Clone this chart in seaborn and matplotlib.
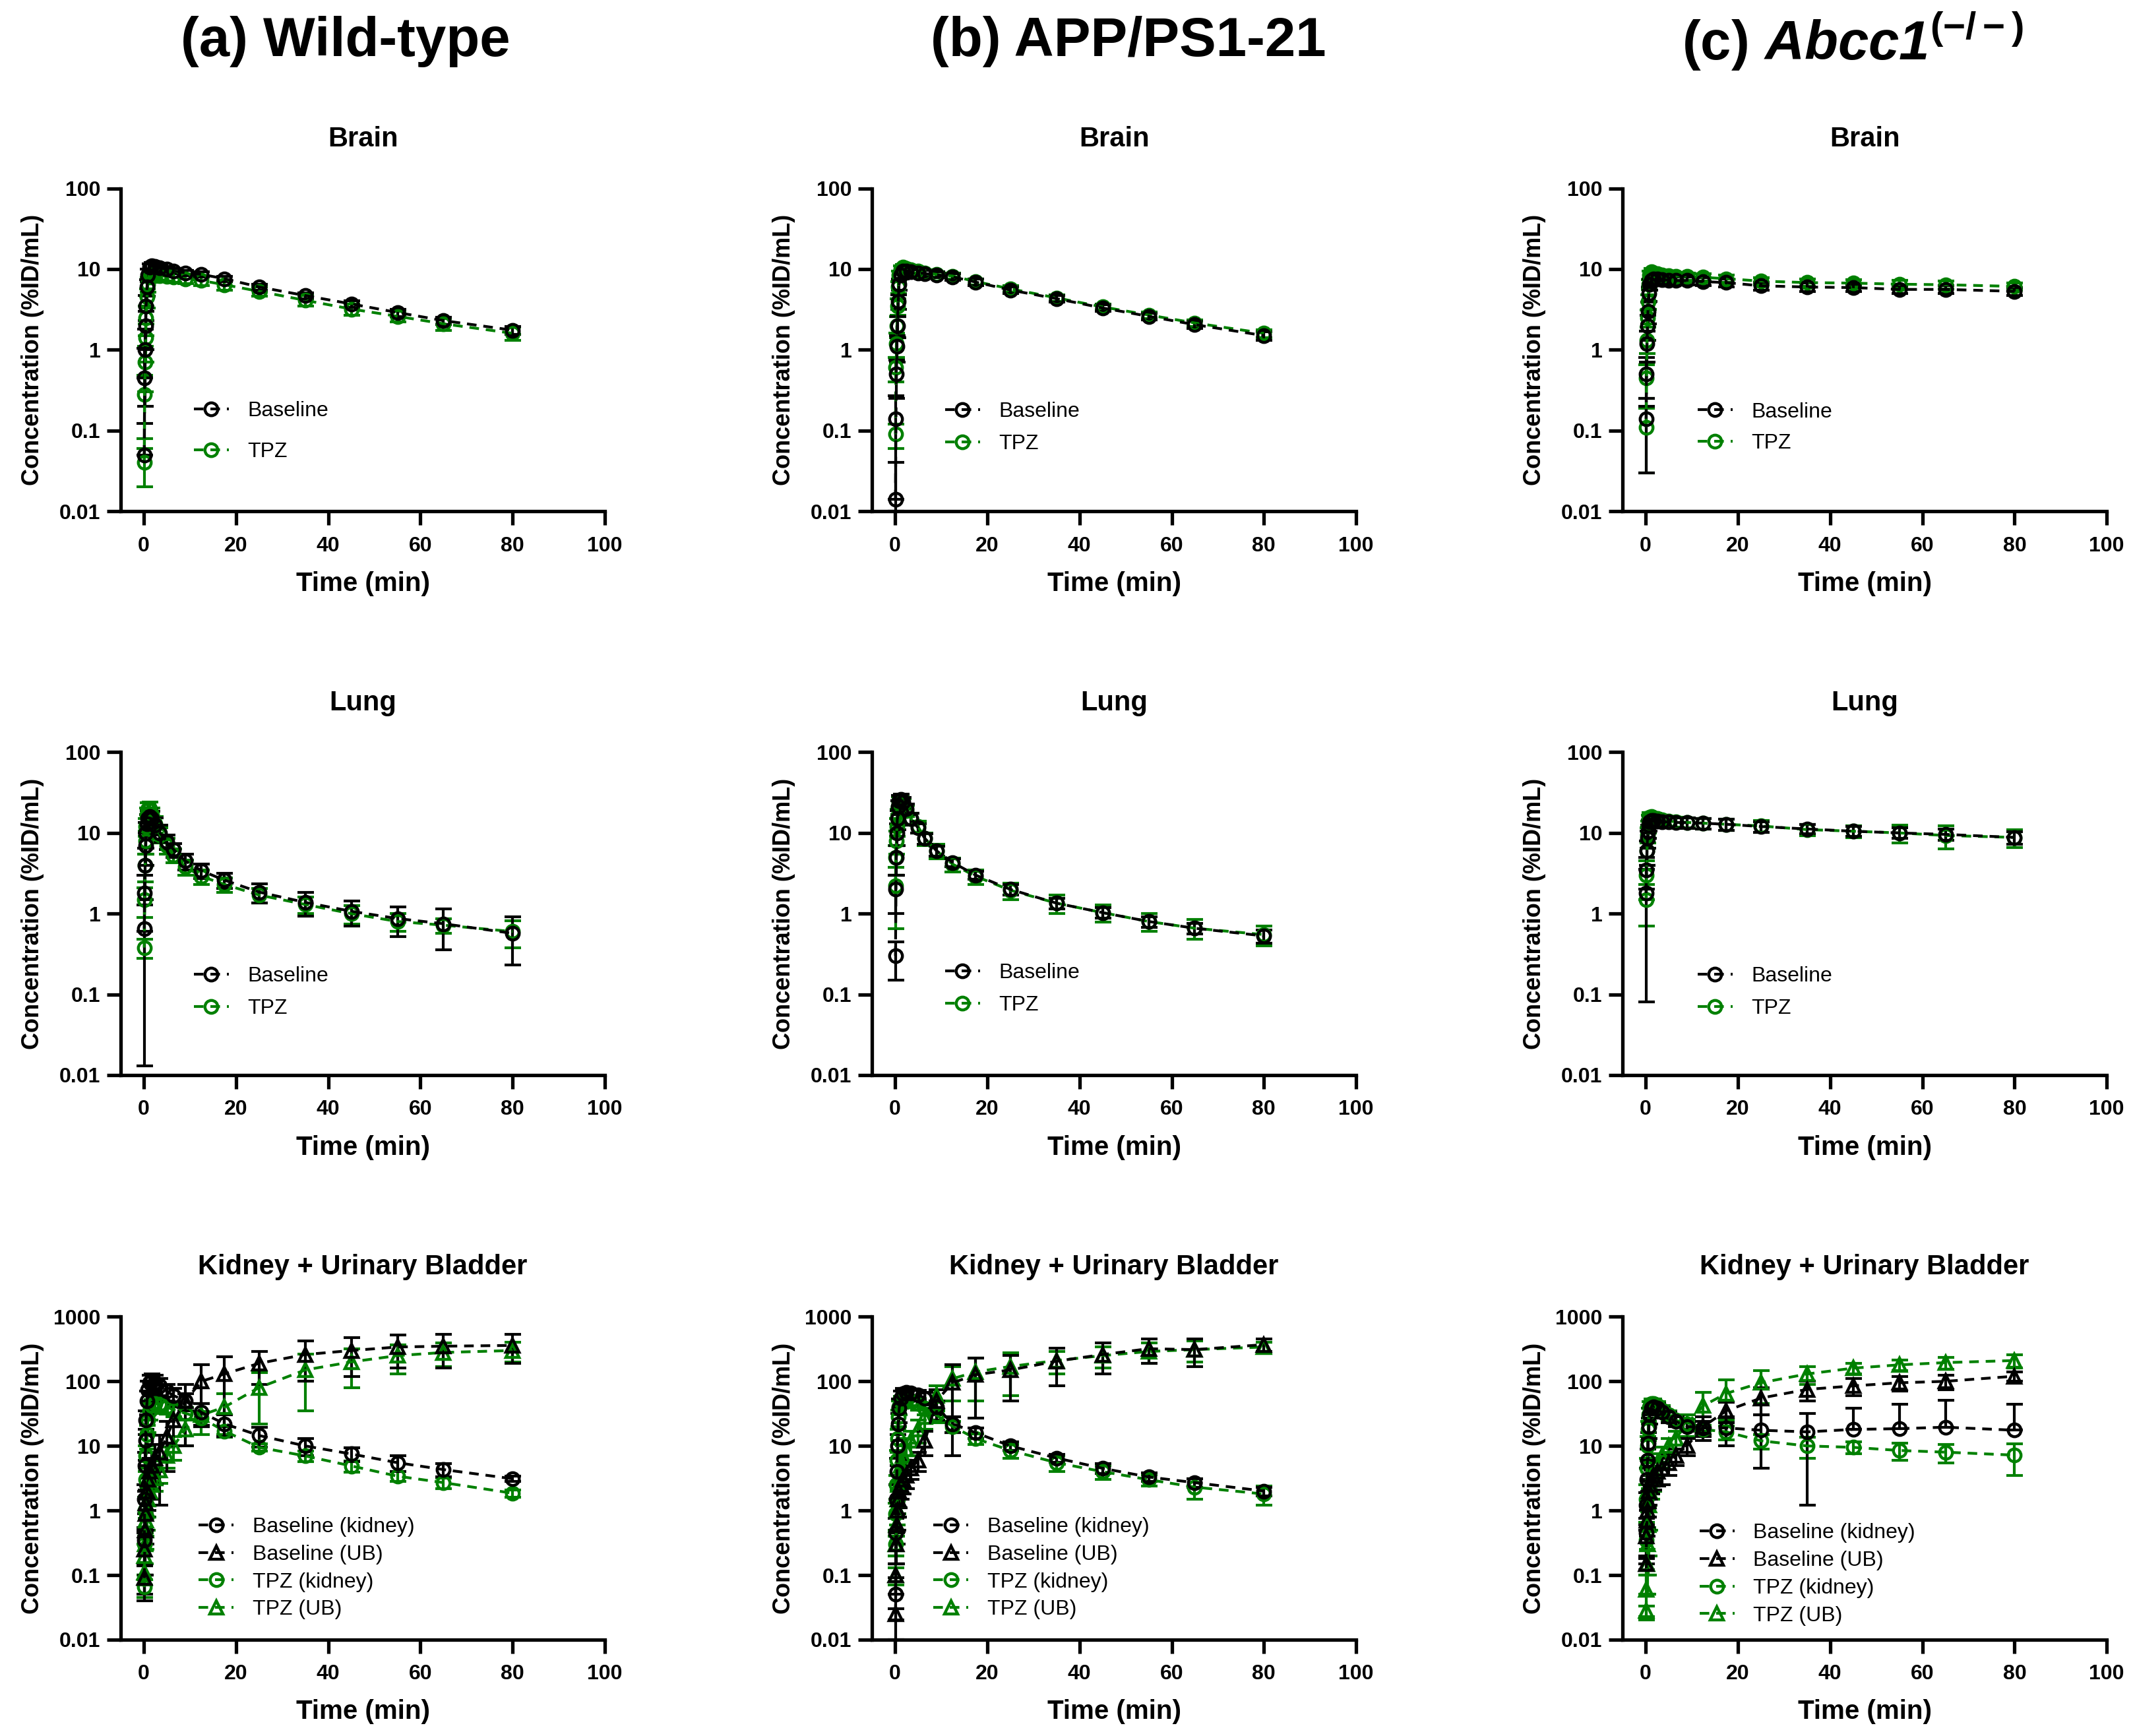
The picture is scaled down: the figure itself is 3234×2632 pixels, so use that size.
import pandas as pd
import seaborn as sns
import matplotlib.pyplot as plt
from matplotlib.lines import Line2D

# frame mid-times (min)
TIME = [0.1, 0.2, 0.3, 0.4, 0.5, 0.7, 0.9, 1.25, 1.75, 2.5, 3.5, 5, 6.5, 9, 12.5, 17.5, 25, 35, 45, 55, 65, 80]

# ---- (a) wild-type ----
wt_brain_base = [0.05, 0.45, 1.0, 2.0, 3.5, 6.0, 8.5, 10.5, 11.0, 10.8, 10.3, 9.9, 9.5, 9.0, 8.6, 7.6, 6.0, 4.7, 3.7, 2.9, 2.3, 1.75]
wt_brain_base_sd = [0.073, 0.6, 0.8, 1.0, 1.2, 1.4, 1.5, 1.2, 1.0, 0.9, 0.8, 0.8, 0.7, 0.7, 0.6, 0.6, 0.5, 0.4, 0.35, 0.3, 0.25, 0.2]
wt_brain_tpz = [0.04, 0.28, 0.7, 1.4, 2.5, 4.5, 6.5, 8.0, 8.5, 8.4, 8.3, 8.1, 7.9, 7.6, 7.2, 6.4, 5.3, 4.1, 3.2, 2.6, 2.1, 1.6]
wt_brain_tpz_sd = [0.02, 0.2, 0.4, 0.7, 1.0, 1.2, 1.3, 1.2, 1.1, 1.0, 1.0, 1.0, 1.0, 1.0, 1.0, 0.9, 0.7, 0.6, 0.5, 0.4, 0.35, 0.3]

wt_lung_base = [0.65, 1.8, 4.0, 7.0, 10.0, 13.0, 15.0, 16.0, 15.0, 12.5, 10.0, 7.8, 6.2, 4.5, 3.4, 2.6, 1.85, 1.38, 1.07, 0.87, 0.75, 0.57]
wt_lung_base_sd = [0.637, 1.2, 2.5, 3.0, 3.5, 4.0, 4.0, 4.0, 3.5, 3.0, 2.4, 1.6, 1.2, 1.0, 0.7, 0.55, 0.5, 0.44, 0.37, 0.35, 0.39, 0.34]
wt_lung_tpz = [0.38, 1.5, 4.0, 8.0, 12.0, 17.0, 19.5, 20.0, 17.0, 13.0, 9.5, 7.0, 5.3, 3.8, 2.9, 2.3, 1.7, 1.3, 1.0, 0.8, 0.72, 0.6]
wt_lung_tpz_sd = [0.1, 0.6, 1.5, 2.5, 3.0, 3.5, 4.0, 4.0, 3.5, 3.0, 2.0, 1.5, 1.0, 0.8, 0.6, 0.45, 0.35, 0.3, 0.25, 0.2, 0.15, 0.22]

wt_kid_base = [0.35, 1.5, 5, 12, 25, 50, 75, 95, 100, 95, 85, 70, 60, 50, 33, 22, 14.5, 10, 7.5, 5.5, 4.3, 3.1]
wt_kid_base_sd = [0.2, 1.0, 3, 6, 10, 20, 25, 30, 30, 28, 25, 20, 18, 15, 12, 8, 5, 3, 1.8, 1.5, 1.0, 0.3]
wt_ub_base = [0.09, 0.25, 0.5, 0.9, 1.3, 2, 3, 4, 5, 6.5, 8, 14, 25, 50, 100, 130, 190, 260, 300, 340, 350, 360]
wt_ub_base_sd = [0.05, 0.2, 0.4, 0.6, 0.8, 1.2, 2, 2.5, 3, 4, 6.8, 10, 15, 40, 80, 110, 100, 160, 180, 180, 190, 170]
wt_kid_tpz = [0.065, 0.3, 1.0, 3, 7, 15, 25, 35, 42, 45, 44, 40, 36, 32, 27, 17, 9.5, 7.0, 4.9, 3.4, 2.7, 1.85]
wt_kid_tpz_sd = [0.02, 0.2, 0.6, 1.5, 3, 6, 9, 10, 10, 10, 10, 9, 8, 7, 7, 3.5, 1.2, 1.3, 1.0, 0.6, 0.5, 0.25]
wt_ub_tpz = [0.11, 0.2, 0.3, 0.5, 0.7, 1.0, 1.5, 2, 2.5, 3.2, 4.2, 7, 10, 18, 30, 40, 80, 150, 200, 250, 280, 300]
wt_ub_tpz_sd = [0.04, 0.1, 0.15, 0.25, 0.3, 0.5, 0.7, 0.8, 1.0, 1.2, 1.6, 2.5, 4, 8, 15, 25, 58, 115, 120, 120, 110, 100]

# ---- (b) APP/PS1-21 ----
app_brain_base = [0.014, 0.14, 0.5, 1.1, 2.0, 4.0, 6.5, 8.5, 9.5, 9.5, 9.2, 9.0, 8.8, 8.5, 8.0, 6.9, 5.5, 4.3, 3.3, 2.6, 2.05, 1.5]
app_brain_base_sd = [0.026, 0.13, 0.25, 0.4, 0.6, 0.8, 1.0, 1.0, 0.9, 0.9, 0.8, 0.8, 0.8, 0.7, 0.7, 0.6, 0.5, 0.4, 0.3, 0.25, 0.2, 0.18]
app_brain_tpz = [0.09, 0.6, 1.2, 2.0, 3.5, 6.0, 8.5, 10.0, 10.5, 10.2, 9.8, 9.4, 9.0, 8.6, 8.2, 7.0, 5.7, 4.4, 3.4, 2.7, 2.15, 1.6]
app_brain_tpz_sd = [0.03, 0.2, 0.4, 0.6, 0.8, 1.0, 1.0, 1.0, 0.9, 0.9, 0.8, 0.8, 0.8, 0.7, 0.7, 0.6, 0.5, 0.4, 0.3, 0.25, 0.2, 0.18]

app_lung_base = [0.3, 2.0, 5.0, 10.0, 15.0, 21.0, 25.0, 26.0, 24.0, 20.0, 15.0, 11.5, 8.5, 6.0, 4.3, 3.0, 2.0, 1.35, 1.03, 0.8, 0.66, 0.53]
app_lung_base_sd = [0.15, 1.0, 2.0, 3, 4, 4, 4, 4, 3.5, 3, 2.5, 1.5, 1.2, 0.8, 0.5, 0.35, 0.3, 0.2, 0.15, 0.12, 0.1, 0.1]
app_lung_tpz = [2.2, 5.0, 8.0, 12.0, 16.0, 21.0, 24.0, 25.0, 23.0, 19.0, 15.0, 12.0, 8.5, 6.0, 4.1, 2.9, 1.95, 1.35, 1.03, 0.8, 0.66, 0.55]
app_lung_tpz_sd = [1.55, 2.0, 2.5, 3, 3.5, 4, 4, 4, 3.5, 3, 2.5, 2, 1.5, 1.2, 0.8, 0.6, 0.45, 0.35, 0.25, 0.2, 0.18, 0.15]

app_kid_base = [0.05, 0.45, 1.5, 4, 10, 22, 38, 55, 65, 68, 66, 62, 55, 40, 22, 16, 10, 6.5, 4.5, 3.3, 2.7, 2.0]
app_kid_base_sd = [0.04, 0.3, 1.0, 2.5, 5, 10, 15, 15, 12, 10, 10, 10, 12, 10, 6, 3, 1.5, 0.9, 0.8, 0.5, 0.4, 0.3]
app_ub_base = [0.025, 0.1, 0.3, 0.6, 1.0, 1.5, 2.0, 2.5, 3.0, 3.5, 4.5, 6, 12, 50, 95, 127, 150, 205, 260, 320, 310, 370]
app_ub_base_sd = [0.005, 0.05, 0.15, 0.3, 0.5, 0.7, 0.9, 1.0, 1.2, 1.3, 1.5, 2, 5, 25, 88, 100, 100, 120, 130, 130, 140, 80]
app_kid_tpz = [0.3, 0.9, 2.5, 6, 13, 28, 40, 48, 52, 52, 50, 45, 38, 30, 20, 13, 8.5, 5.5, 4.0, 3.0, 2.3, 1.8]
app_kid_tpz_sd = [0.1, 0.4, 1.0, 2.5, 5, 8, 10, 10, 10, 10, 10, 9, 8, 7, 4, 2.5, 2.0, 1.5, 1.0, 0.6, 0.8, 0.6]
app_ub_tpz = [0.1, 0.3, 0.6, 1.0, 1.5, 2.5, 3.5, 5, 7, 9, 12, 18, 28, 60, 110, 140, 170, 210, 250, 290, 310, 340]
app_ub_tpz_sd = [0.03, 0.1, 0.2, 0.4, 0.6, 1.0, 1.5, 2, 3, 4, 5, 7, 10, 25, 60, 90, 110, 80, 90, 100, 110, 60]

# ---- (c) Abcc1 knockout ----
ko_brain_base = [0.14, 0.5, 1.2, 2.0, 3.0, 5.0, 6.5, 7.3, 7.6, 7.6, 7.4, 7.3, 7.2, 7.2, 7.0, 6.8, 6.2, 6.0, 5.9, 5.6, 5.6, 5.3]
ko_brain_base_sd = [0.11, 0.3, 0.5, 0.7, 0.9, 1.0, 1.0, 1.0, 0.9, 0.9, 0.8, 0.8, 0.8, 0.8, 0.8, 0.8, 0.7, 0.7, 0.6, 0.6, 0.6, 0.6]
ko_brain_tpz = [0.11, 0.45, 1.3, 2.5, 4.0, 6.5, 8.5, 9.2, 9.0, 8.8, 8.5, 8.3, 8.2, 8.1, 7.9, 7.6, 7.1, 6.8, 6.7, 6.5, 6.4, 6.1]
ko_brain_tpz_sd = [0.08, 0.2, 0.4, 0.6, 0.8, 0.9, 1.0, 1.0, 1.0, 0.9, 0.9, 0.9, 0.9, 0.8, 0.8, 0.8, 0.7, 0.7, 0.7, 0.7, 0.7, 0.6]

ko_lung_base = [1.8, 3.5, 6.0, 8.5, 10.5, 12.5, 13.8, 14.3, 14.2, 14.0, 13.8, 13.6, 13.5, 13.4, 13.2, 12.8, 12.0, 11.2, 10.5, 10.0, 9.6, 8.8]
ko_lung_base_sd = [1.72, 1.5, 2.0, 2.0, 2.0, 2.0, 2.0, 2.0, 2.0, 2.0, 2.0, 2.0, 2.0, 2.0, 2.0, 2.0, 1.8, 1.5, 1.5, 1.5, 1.5, 1.5]
ko_lung_tpz = [1.5, 3.0, 6.0, 9.5, 12.0, 14.5, 15.8, 16.0, 15.5, 15.0, 14.5, 14.0, 13.8, 13.5, 13.2, 12.8, 12.2, 11.0, 10.5, 10.0, 9.3, 8.8]
ko_lung_tpz_sd = [0.8, 1.5, 2.0, 2.0, 2.0, 2.0, 2.0, 2.0, 2.0, 2.0, 2.0, 2.0, 2.0, 2.0, 2.0, 2.0, 2.0, 1.8, 1.8, 2.5, 3.0, 2.2]

ko_kid_base = [0.45, 1.2, 3.0, 6.0, 11, 20, 30, 38, 40, 38, 33, 28, 24, 20, 19, 19, 17.5, 16.5, 18, 18.5, 19.5, 17.5]
ko_kid_base_sd = [0.3, 0.7, 1.5, 3, 5, 7, 8, 8, 8, 7, 6, 5, 4, 3, 5, 9, 13, 15.3, 20, 26, 31, 27]
ko_ub_base = [0.15, 0.4, 0.7, 1.0, 1.4, 2.0, 2.5, 3.0, 3.5, 4.0, 4.5, 5.5, 7, 10, 20, 35, 55, 75, 85, 95, 100, 120]
ko_ub_base_sd = [0.03, 0.2, 0.3, 0.5, 0.6, 0.8, 1.0, 1.2, 1.4, 1.6, 2.0, 2.0, 2.0, 3, 8, 12, 25, 25, 25, 25, 25, 20]
ko_kid_tpz = [0.35, 1.5, 4.5, 10, 18, 30, 40, 45, 45, 42, 36, 30, 25, 22, 18, 16.5, 12, 10, 9.5, 8.5, 8.0, 7.2]
ko_kid_tpz_sd = [0.3, 1.0, 2, 4, 6, 8, 8, 8, 8, 7, 6, 5, 4, 4, 3, 4, 3, 3.5, 2, 2.5, 2.5, 3.7]
ko_ub_tpz = [0.028, 0.06, 0.15, 0.3, 0.6, 1.2, 2.0, 3.0, 4.0, 5.5, 7.0, 10, 13, 22, 42, 65, 95, 130, 160, 180, 195, 210]
ko_ub_tpz_sd = [0.005, 0.04, 0.1, 0.25, 0.5, 1.0, 1.5, 1.5, 2.0, 2.0, 2.5, 3, 4, 8, 25, 40, 50, 40, 30, 35, 40, 50]

COLUMN_TITLES = ['(a) Wild-type', '(b) APP/PS1-21', r'(c) $\mathbfit{Abcc1}^{\mathbf{(-/-)}}$']
ROW_TITLES = ['Brain', 'Lung', 'Kidney + Urinary Bladder']

sns.set_theme(style='ticks')
plt.rcParams['font.family'] = ['Liberation Sans', 'DejaVu Sans']
plt.rcParams['text.color'] = 'black'
plt.rcParams['axes.labelcolor'] = 'black'
plt.rcParams['axes.titlecolor'] = 'black'
plt.rcParams['xtick.color'] = 'black'
plt.rcParams['ytick.color'] = 'black'
plt.rcParams['mathtext.fontset'] = 'custom'
plt.rcParams['mathtext.rm'] = 'Liberation Sans'
plt.rcParams['mathtext.bf'] = 'Liberation Sans:bold'
plt.rcParams['mathtext.it'] = 'Liberation Sans:italic'
plt.rcParams['mathtext.bfit'] = 'Liberation Sans:italic:bold'

GREEN = '#008000'
DASH = (0, (3.5, 2.5))


def draw_series(ax, mean, sd, color, marker):
    df = pd.DataFrame({'time': TIME, 'conc': mean, 'sd': sd})
    # on a log axis a bar reaching below zero is shown only upwards
    lower = [s if m - s > 0 else 0 for m, s in zip(df['conc'], df['sd'])]
    ax.errorbar(df['time'], df['conc'], yerr=[lower, df['sd']], fmt='none', ecolor=color,
                elinewidth=1.5, capsize=4.5, capthick=1.5, zorder=2)
    ms = 7.5 if marker == '^' else 7
    sns.lineplot(data=df, x='time', y='conc', ax=ax, color=color, linestyle=DASH,
                 linewidth=1.5, marker=marker, markersize=ms, markerfacecolor='none',
                 markeredgecolor=color, markeredgewidth=1.6, errorbar=None,
                 legend=False, zorder=3)


def handle(color, marker):
    return Line2D([], [], color=color, linestyle=DASH, linewidth=1.5, marker=marker,
                  markersize=7, markerfacecolor='none', markeredgecolor=color,
                  markeredgewidth=1.6)


def style_axes(ax, title, ymax):
    ax.set_yscale('log')
    ax.set_xlim(-5, 100)
    ax.set_ylim(0.01, ymax)
    yt = [v for v in [0.01, 0.1, 1, 10, 100, 1000] if v <= ymax]
    ax.set_yticks(yt)
    ax.set_yticklabels([f'{v:g}' for v in yt])
    ax.set_xticks([0, 20, 40, 60, 80, 100])
    ax.set_xticklabels(['0', '20', '40', '60', '80', '100'])
    ax.minorticks_off()
    sns.despine(ax=ax)
    for s in ['left', 'bottom']:
        ax.spines[s].set_linewidth(1.9)
        ax.spines[s].set_color('black')
    ax.tick_params(axis='both', direction='out', length=7.5, width=1.9, color='black',
                   labelsize=11.5, labelcolor='black')
    ax.tick_params(axis='x', pad=6)
    for lab in ax.get_xticklabels() + ax.get_yticklabels():
        lab.set_fontweight('bold')
    ax.set_title(title, fontsize=15, fontweight='bold', pad=23, color='black')
    ax.set_xlabel('Time (min)', fontsize=14.5, fontweight='bold', color='black')
    ax.set_ylabel('Concentration (%ID/mL)', fontsize=13, fontweight='bold', color='black')
    ax.xaxis.set_label_coords(0.5, -0.185)
    ax.yaxis.set_label_coords(-0.158, 0.5)
    ax.set_facecolor('white')


fig = plt.figure(figsize=(16.17, 13.16), dpi=200)
fig.patch.set_facecolor('white')

COL_LEFT = [0.0566, 0.4088, 0.7607]
ROW_BOTTOM = [0.7055, 0.3807, 0.0555]
AX_W, AX_H = 0.227, 0.186
TITLE_X = [0.162, 0.529, 0.8685]

brain = [(wt_brain_base, wt_brain_base_sd, wt_brain_tpz, wt_brain_tpz_sd),
         (app_brain_base, app_brain_base_sd, app_brain_tpz, app_brain_tpz_sd),
         (ko_brain_base, ko_brain_base_sd, ko_brain_tpz, ko_brain_tpz_sd)]
lung = [(wt_lung_base, wt_lung_base_sd, wt_lung_tpz, wt_lung_tpz_sd),
        (app_lung_base, app_lung_base_sd, app_lung_tpz, app_lung_tpz_sd),
        (ko_lung_base, ko_lung_base_sd, ko_lung_tpz, ko_lung_tpz_sd)]
kidney = [(wt_kid_base, wt_kid_base_sd, wt_ub_base, wt_ub_base_sd,
           wt_kid_tpz, wt_kid_tpz_sd, wt_ub_tpz, wt_ub_tpz_sd),
          (app_kid_base, app_kid_base_sd, app_ub_base, app_ub_base_sd,
           app_kid_tpz, app_kid_tpz_sd, app_ub_tpz, app_ub_tpz_sd),
          (ko_kid_base, ko_kid_base_sd, ko_ub_base, ko_ub_base_sd,
           ko_kid_tpz, ko_kid_tpz_sd, ko_ub_tpz, ko_ub_tpz_sd)]

brain_leg = [(0.151, 0.2475, 1.0), (0.151, 0.259, 0.6), (0.155, 0.259, 0.55)]
lung_leg = [(0.151, 0.256, 0.6), (0.151, 0.266, 0.6), (0.155, 0.256, 0.6)]
kid_leg = [(0.161, 0.221, 0.37), (0.127, 0.221, 0.37), (0.159, 0.2025, 0.37)]

for c in range(3):
    fig.text(TITLE_X[c], 0.976, COLUMN_TITLES[c], ha='center', va='center',
             fontsize=30, fontweight='bold', color='black')

    # brain / lung rows
    for r, (block, legpos) in enumerate([(brain, brain_leg), (lung, lung_leg)]):
        ax = fig.add_axes([COL_LEFT[c], ROW_BOTTOM[r], AX_W, AX_H])
        ax.set_yscale('log')
        base, base_sd, tpz, tpz_sd = block[c]
        draw_series(ax, tpz, tpz_sd, GREEN, 'o')
        draw_series(ax, base, base_sd, 'black', 'o')
        style_axes(ax, ROW_TITLES[r], 100)
        x, y, sp = legpos[c]
        ax.legend([handle('black', 'o'), handle(GREEN, 'o')], ['Baseline', 'TPZ'],
                  loc='center left', bbox_to_anchor=(x, y), frameon=False,
                  fontsize=11.5, handlelength=1.65, handletextpad=0.9,
                  labelspacing=sp, borderpad=0, borderaxespad=0, labelcolor='black')

    # kidney + urinary bladder row
    ax = fig.add_axes([COL_LEFT[c], ROW_BOTTOM[2], AX_W, AX_H])
    ax.set_yscale('log')
    kb, kb_sd, ub, ub_sd, kt, kt_sd, ut, ut_sd = kidney[c]
    draw_series(ax, ut, ut_sd, GREEN, '^')
    draw_series(ax, kt, kt_sd, GREEN, 'o')
    draw_series(ax, ub, ub_sd, 'black', '^')
    draw_series(ax, kb, kb_sd, 'black', 'o')
    style_axes(ax, ROW_TITLES[2], 1000)
    x, y, sp = kid_leg[c]
    ax.legend([handle('black', 'o'), handle('black', '^'), handle(GREEN, 'o'), handle(GREEN, '^')],
              ['Baseline (kidney)', 'Baseline (UB)', 'TPZ (kidney)', 'TPZ (UB)'],
              loc='center left', bbox_to_anchor=(x, y), frameon=False,
              fontsize=11.5, handlelength=1.65, handletextpad=0.9,
              labelspacing=sp, borderpad=0, borderaxespad=0, labelcolor='black')

fig.savefig('out.png', dpi=200, facecolor='white')
